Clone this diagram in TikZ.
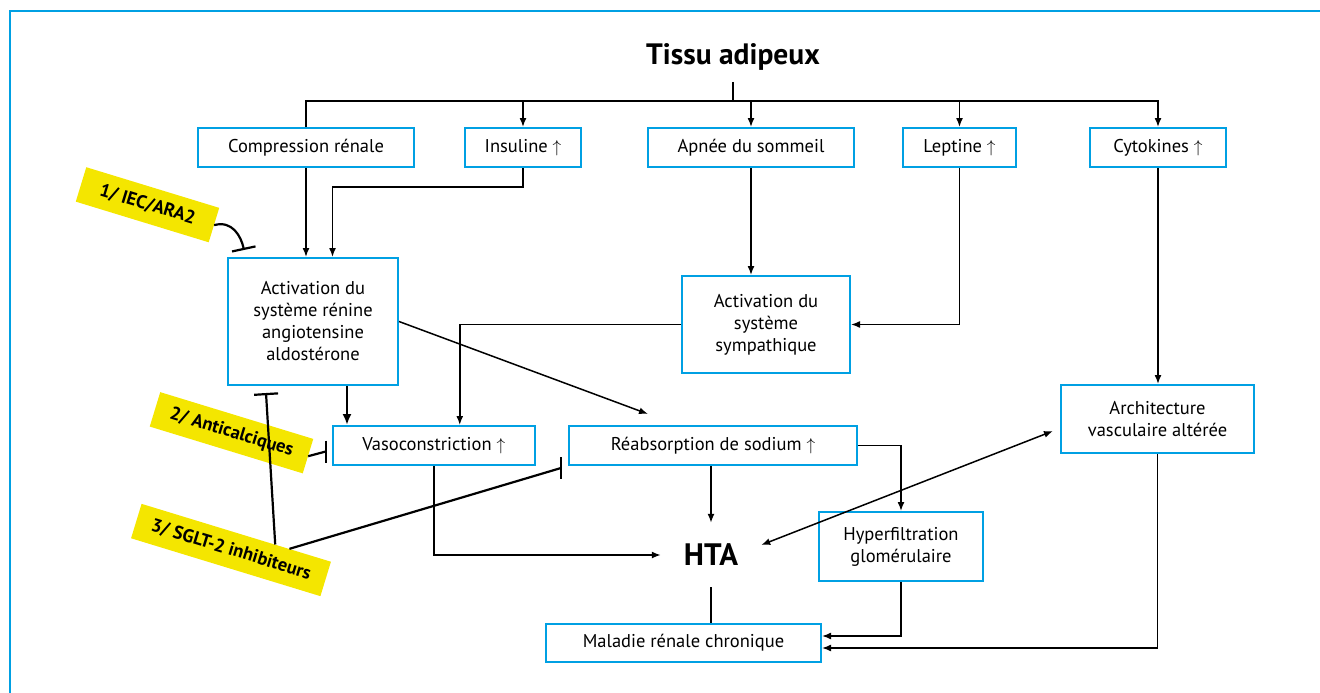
\documentclass[tikz,border=0pt]{standalone}
\usepackage{fontspec}
\setmainfont{PT Sans}
\usetikzlibrary{arrows.meta, calc}
\definecolor{boxblue}{RGB}{0,160,227}
\definecolor{drugyellow}{RGB}{244,230,0}

\begin{document}
\begin{tikzpicture}[x=1pt, y=-1pt,
	box/.style={draw=boxblue, line width=2pt, align=center, inner sep=2pt, font=\fontsize{18.5}{22}\selectfont},
	link/.style={line width=1.5pt},
	arr/.style={line width=1.5pt, -{Latex[length=9pt,width=7pt]}},
	drug/.style={fill=drugyellow, rotate=-17, minimum height=36pt, inner sep=0pt, font=\bfseries\fontsize{18.5}{20}\selectfont},
	inh/.style={line width=2.2pt, -{Bar[width=24pt,line width=2.2pt]}}]
\useasboundingbox (0,0) rectangle (1320,693);

% frame
	\draw[boxblue, line width=2.5pt] (10,710) -- (10,11) -- (1330,11);

% top row
	\node[font=\bfseries\fontsize{29.5}{32}\selectfont] (title) at (733,57) {Tissu adipeux};
	\node[box, minimum width=216pt, minimum height=39pt] (compr) at (306,147.5) {Compression rénale};
	\node[box, minimum width=116pt, minimum height=39pt] (insul) at (523,147.5) {Insuline \ensuremath{\uparrow}};
	\node[box, minimum width=206pt, minimum height=39pt] (apnee) at (751,147.5) {Apnée du sommeil};
	\node[box, minimum width=113pt, minimum height=39pt] (lept) at (959.5,147.5) {Leptine \ensuremath{\uparrow}};
	\node[box, minimum width=136pt, minimum height=39pt] (cyto) at (1158,147.5) {Cytokines \ensuremath{\uparrow}};

% middle
	\node[box, minimum width=170pt, minimum height=127pt] (raas) at (313,321.5) {Activation du\\système rénine\\angiotensine\\aldostérone};
	\node[box, minimum width=168pt, minimum height=97pt] (symp) at (766,324.5) {Activation du\\système\\sympathique};
	\node[box, minimum width=202pt, minimum height=39pt] (vaso) at (433.75,445.5) {Vasoconstriction \ensuremath{\uparrow}};
	\node[box, minimum width=288pt, minimum height=39pt] (reab) at (713,445.5) {Réabsorption de sodium \ensuremath{\uparrow}};
	\node[box, minimum width=193pt, minimum height=68pt] (archi) at (1157.5,419) {Architecture\\vasculaire altérée};

% bottom
	\node[font=\bfseries\fontsize{31}{34}\selectfont, minimum width=100pt, minimum height=64pt, inner sep=0pt] (hta) at (711,555) {HTA};
	\node[box, minimum width=164pt, minimum height=69pt] (hyper) at (901,546.5) {Hyperfiltration\\glomérulaire};
	\node[box, minimum width=275pt, minimum height=38pt] (mrc) at (683.5,643) {Maladie rénale chronique};

% drugs
	\node[drug, minimum width=139pt] (iec) at (147.5,204.75) {1/ IEC/ARA2};
	\node[drug, minimum width=160pt] (anti) at (231.5,432.75) {2/ Anticalciques};
	\node[drug, minimum width=198pt] (sglt) at (231,550) {3/ SGLT-2 inhibiteurs};

% arrows
	\coordinate (busTop) at (733,82);
	\coordinate (bus) at (733,102);
	\draw[link] (busTop) -- (bus);
	\draw[arr] (compr.north) -- ++(0,-26) -| (cyto.north);
	\foreach \n in {insul, apnee, lept}
		\draw[arr] (\n.north |- bus) -- (\n.north);

	\draw[arr] (compr.south) -- (compr.south |- raas.north);
	\draw[arr] (insul.south) -- ++(0,19) -| ([xshift=19.5pt]raas.north);
	\draw[arr] (apnee.south) -- (apnee.south |- symp.north);
	\draw[arr] (lept.south) |- (symp.east);
	\draw[arr] (cyto.south) -- (cyto.south |- archi.north);
	\draw[arr] (symp.west) -| ([xshift=26pt]vaso.north);
	\draw[line width=2.5pt, -{Latex[length=11pt,width=9pt]}] ([xshift=34pt]raas.south) -- ([xshift=34pt]raas.south |- vaso.north);
	\coordinate (reabIn) at (648,414);
	\draw[arr] (raas.east) -- (reabIn);

	\draw[arr] (hta.north |- reab.south) -- (hta.north);
	\draw[arr] (vaso.south) |- (hta.west);
	\draw[link] (hta.south) -- (hta.south |- mrc.north);
	\draw[arr] (reab.east) -| (hyper.north);
	\draw[arr] (hyper.south) |- ([yshift=7pt]mrc.east);
	\draw[arr] (archi.south) |- ([yshift=-5pt]mrc.east);
	\draw[link, {Latex[length=9pt,width=7pt]}-{Latex[length=9pt,width=7pt]}] ([yshift=10pt]hta.east) -- ([xshift=-7pt,yshift=-12pt]archi.west);

% inhibitions
	\coordinate (raasInh) at (244,250);
	\draw[inh] (iec.east) .. controls +(18,-5) and +(-3,-14) .. (raasInh);
	\draw[inh] ($(sglt.north)!0.41!(sglt.north east)$) -- ([xshift=-47pt,yshift=-7pt]raas.south);
	\draw[line width=2.2pt] ($(sglt.north)!0.56!(sglt.north east)$) -- ([xshift=-7pt,yshift=-22.5pt]reab.west) coordinate (reabBar);
	\draw[line width=2.2pt] ([yshift=11pt]reabBar) -- ([yshift=-11pt]reabBar);
	\draw[line width=2.2pt] (anti.east) -- ([xshift=-6pt,yshift=-6pt]vaso.west) coordinate (vasoBar);
	\draw[line width=2.2pt] ([yshift=11pt]vasoBar) -- ([yshift=-11pt]vasoBar);

\end{tikzpicture}
\end{document}
